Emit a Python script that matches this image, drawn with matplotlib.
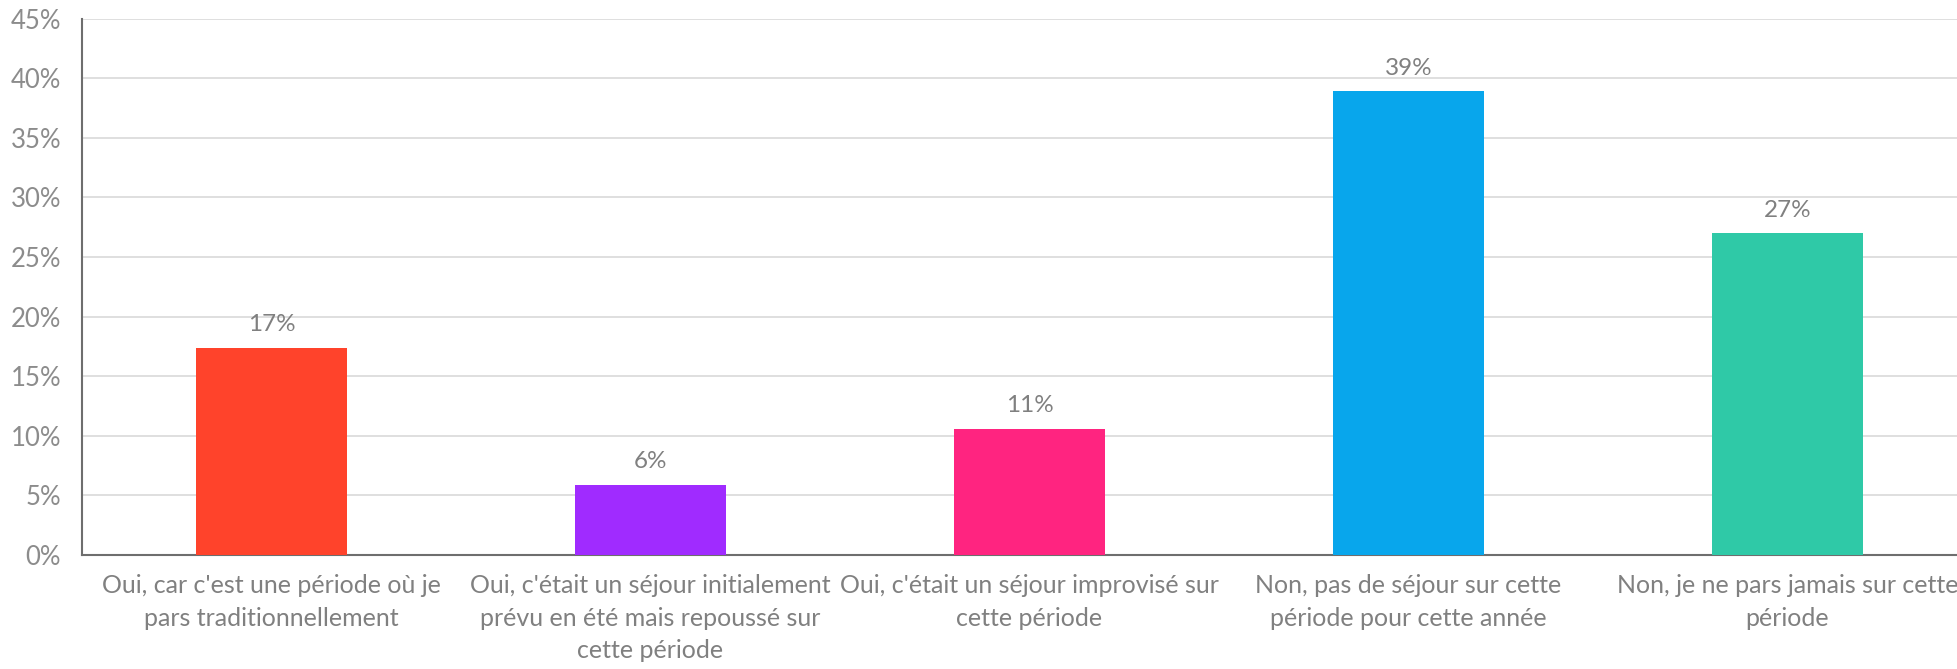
import matplotlib.pyplot as plt
from matplotlib.ticker import FuncFormatter

plt.rcParams['font.family'] = ['Lato', 'DejaVu Sans']

# data
categories = [
    "Oui, car c'est une période où je\npars traditionnellement",
    "Oui, c'était un séjour initialement\nprévu en été mais repoussé sur\ncette période",
    "Oui, c'était un séjour improvisé sur\ncette période",
    "Non, pas de séjour sur cette\npériode pour cette année",
    "Non, je ne pars jamais sur cette\npériode",
]
values = [17.4, 5.9, 10.6, 38.9, 27.0]
colors = ['#FF432B', '#A02BFF', '#FF2480', '#08A6EC', '#2FC9A7']
yticks = list(range(0, 50, 5))

W, H = 1957, 669
fig = plt.figure(figsize=(W / 100, H / 100), dpi=100)
# plot area: left at x=82, bottom at y=555, top at y=18.7, five slots of 379 px
ax = fig.add_axes([82 / W, (H - 555) / H, 5 * 379 / W, (555 - 18.7) / H])

x = range(len(values))
bars = ax.bar(x, values, width=0.4, color=colors, zorder=3)

for b, v in zip(bars, values):
    ax.annotate(f"{round(v)}%", (b.get_x() + b.get_width() / 2, v),
                xytext=(0, 9), textcoords='offset points',
                ha='center', va='bottom', fontsize=17.5, color='#808080')

ax.set_xlim(-0.5, 4.5)
ax.set_ylim(0, 45)
ax.set_yticks(yticks)
ax.yaxis.set_major_formatter(FuncFormatter(lambda v, p: f"{int(v)}%"))
ax.set_xticks(list(x))
ax.set_xticklabels(categories, fontsize=18, color='#808080', linespacing=1.5)
ax.tick_params(axis='x', length=0, pad=14)
ax.tick_params(axis='y', length=0, pad=15, labelsize=18.5, labelcolor='#8c8c8c')

ax.grid(axis='y', color='#d9d9d9', linewidth=1.2, zorder=0)
for s in ['top', 'right']:
    ax.spines[s].set_visible(False)
for s in ['left', 'bottom']:
    ax.spines[s].set_color('#6e6e6e')
    ax.spines[s].set_linewidth(1.5)

fig.savefig('out.png', dpi=100)
